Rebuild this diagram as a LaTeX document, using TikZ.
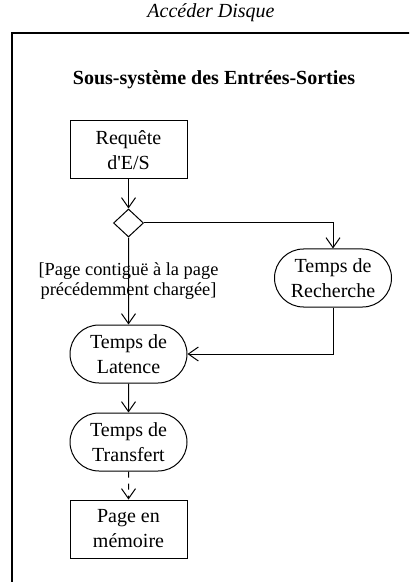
\documentclass[tikz,border=0pt]{standalone}
\usepackage{fontspec}
\setmainfont{Liberation Serif}
\usepackage{xcolor}
\usetikzlibrary{arrows.meta,shapes.geometric,shapes.misc}

\begin{document}
\begin{tikzpicture}[x=0.5pt,y=-0.5pt,
    font=\fontsize{10}{12.5}\selectfont,
    flow/.style={draw, line width=0.5pt},
    etat/.style={flow, rounded rectangle, minimum width=58.5pt, minimum height=29pt, inner sep=0pt, align=center},
    boite/.style={flow, rectangle, minimum width=58.5pt, minimum height=29pt, inner sep=0pt, align=center},
    choix/.style={flow, diamond, minimum width=15pt, minimum height=14pt, inner sep=0pt},
    garde/.style={align=center, font=\fontsize{9.2}{10}\selectfont},
    fleche/.style={line width=0.5pt, -{Straight Barb[length=5pt,width=7pt]}}]
      \clip (0,0) rectangle (409,582);
      % Cadre du diagramme
      \draw[line width=1pt] (12,600) |- (430,33);
      \node (titre) at (211,13) {\itshape Accéder Disque};
      \node (sous) at (214,80) {\bfseries Sous-système des Entrées-Sorties};

      % Activités
      \node[boite] (req) at (128.5,150) {Requête\\d\textquotesingle E/S};
      \node[choix] (dec) at (128.5,223) {};
      \node[etat] (rech) at (333,278) {Temps de\\Recherche};
      \node[etat] (lat) at (128.5,354) {Temps de\\Latence};
      \node[etat] (trans) at (128.5,442) {Temps de\\Transfert};
      \node[boite] (page) at (128.5,529) {Page en\\mémoire};

      % Transitions
      \draw[fleche] (req) -- (dec);
      \draw[fleche] (dec.east) -| (rech.north);
      \draw[fleche] (dec) -- (lat) node[garde, pos=0.5] {[Page contiguë à la page\\précédemment chargée]};
      \draw[fleche] (rech.south) |- (lat.east);
      \draw[fleche] (lat) -- (trans);
      \draw[fleche, dashed] (trans) -- (page);
    \end{tikzpicture}
\end{document}
